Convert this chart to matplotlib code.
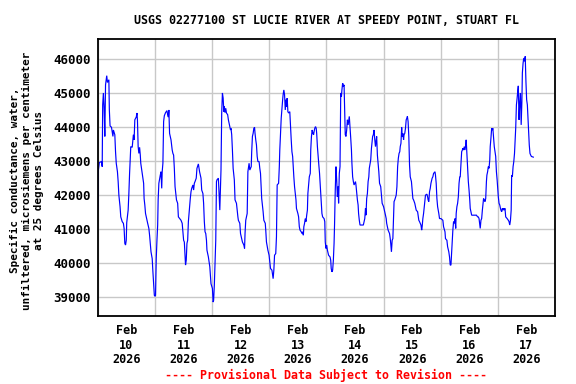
import matplotlib
matplotlib.use("Agg")
import matplotlib.pyplot as plt
import numpy as np

# Hours since 2026-02-10 00:00
hours = [
    0.0, 0.1, 0.6, 1.5, 1.8, 2.0, 2.3, 2.6, 2.9, 3.2, 3.7, 4.0, 4.6, 4.8, 5.1, 5.7, 6.0, 6.3, 6.5, 7.1,
    7.4, 7.7, 8.2, 8.5, 8.8, 9.3, 9.6, 10.2, 10.7, 11.0, 11.3, 11.6, 11.9, 12.1, 12.7, 13.0, 13.3, 13.8,
    14.4, 14.7, 14.9, 15.2, 15.5, 16.1, 16.4, 16.6, 16.9, 17.2, 17.5, 17.8, 18.0, 18.6, 19.2, 19.4, 19.7,
    20.0, 20.6, 20.9, 21.4, 21.7, 22.3, 22.8, 23.1, 23.7, 24.0, 24.2, 24.5, 24.8, 25.1, 25.3, 25.6, 26.2,
    26.5, 26.8, 27.0, 27.3, 27.6, 27.9, 28.4, 29.0, 29.3, 29.6, 29.8, 30.1, 30.7,
    31.2, 31.5, 31.8, 32.1, 32.4, 33.0, 33.5, 33.8, 34.9, 35.4, 35.7, 36.0, 36.3, 36.6, 36.8, 37.1, 37.4,
    37.7, 38.0, 38.5, 38.8, 39.1, 39.4, 39.9, 40.2, 40.5, 40.8, 41.3, 41.6, 42.2, 42.7, 43.3, 43.6, 44.1,
    44.4, 44.7, 45.0, 45.3, 45.6, 45.8, 46.4, 47.0, 47.5, 48.1, 48.4, 48.6, 48.9, 49.2, 49.5, 49.8, 50.0,
    50.6, 50.9, 51.2, 51.4, 51.7, 52.0, 52.3, 52.6, 52.9, 53.1, 53.4, 53.7, 54.0, 54.5, 54.8, 55.4, 55.7,
    55.9, 56.2, 56.5, 56.8, 57.3, 57.6, 58.2, 58.8, 59.0, 59.6, 59.9, 60.4, 60.7, 61.3, 61.6, 61.8, 62.1,
    62.7, 63.0, 63.5,
    63.8, 64.1, 64.4, 64.6, 64.9, 65.2, 65.5, 65.8, 66.0, 66.3, 66.6, 66.9, 67.2, 67.7, 68.0, 68.3, 68.6,
    68.8, 69.1, 69.4, 69.7, 70.3, 70.5, 70.8, 71.4, 71.9, 72.2, 72.5, 73.1, 73.3, 73.6, 73.9, 74.2, 74.7,
    75.0, 75.3, 75.9, 76.2, 76.4, 76.7, 77.0, 77.3, 77.6, 77.8, 78.1, 78.4, 78.7, 79.0, 79.2, 79.5, 79.8,
    80.1, 80.6, 80.9, 81.2, 81.5, 81.8, 82.3, 82.6, 82.9, 83.2, 83.4, 84.0, 84.3, 84.6, 84.9, 85.4, 85.7,
    86.0, 86.3, 86.5, 86.8, 87.1, 87.4, 87.7, 88.0, 88.2, 88.5, 88.8, 89.2, 89.4, 89.7, 90.0, 90.3, 90.6,
    90.8, 91.1, 91.4, 91.7, 91.9, 92.2, 92.5, 92.8, 93.1, 93.4, 93.6, 93.9, 94.1, 94.4, 95.0, 95.3,
    95.5, 95.8, 96.1, 96.4, 96.9, 97.5, 97.8, 98.0, 98.3, 98.6, 98.9, 99.2, 99.4, 99.7, 100.0, 100.3,
    100.6, 100.9, 101.1, 101.4, 101.7, 102.0, 102.3, 102.5, 102.8, 103.1, 103.4, 103.7, 103.9, 104.2,
    104.5, 104.8, 105.1, 105.3, 105.6, 105.9, 106.2, 106.5, 106.7, 107.0, 107.3, 107.6, 108.2, 108.4,
    109.0, 109.3, 109.5, 109.8, 110.1, 111.5, 111.8, 112.1, 112.4, 112.6, 112.9, 113.2, 113.5, 113.8,
    114.0, 114.6, 114.9, 115.2, 115.4, 115.7, 116.0, 116.3, 116.6, 116.9, 117.1, 117.4, 118.0, 118.3,
    118.8, 119.1, 119.4, 120.0, 120.5, 120.8, 121.1, 121.3, 121.9, 122.5, 122.8, 123.0, 123.3, 123.6,
    123.9, 124.2, 124.4, 124.7, 125.3, 125.6, 125.9, 126.2, 126.5, 126.8, 127.0, 127.3, 127.6,
    127.8, 128.1, 128.4, 128.6, 128.9, 129.2, 129.5, 129.8, 130.0, 130.3, 130.6, 130.9, 131.2, 131.7,
    132.0, 132.3, 132.6, 133.1, 133.4, 133.7, 134.3, 134.5, 134.8, 135.1, 135.7, 136.0, 136.2, 136.5,
    136.8, 137.3, 137.6, 138.2, 138.5, 138.7, 139.0, 139.3, 139.6, 139.9, 140.4, 140.7, 141.0, 141.6,
    141.8, 142.1, 142.4, 142.7, 143.2, 143.5, 144.1, 144.9, 145.2, 145.8, 146.0, 146.6, 146.9, 147.4,
    147.7, 148.0, 148.3, 148.6, 148.9, 149.1, 149.4, 149.7, 150.0, 150.3, 150.5, 150.8, 151.1, 151.4,
    151.7, 152.0, 152.2, 152.5, 152.8, 153.1, 153.3, 153.6, 153.9, 154.2, 154.5, 154.7, 155.0, 155.6,
    155.9, 156.2, 156.4, 156.7, 157.0, 159.0, 159.5,
    159.8, 160.1, 160.4, 160.6, 160.9, 161.2, 161.5, 161.8, 162.0, 162.3, 162.6, 162.9, 163.2, 163.4,
    163.7, 164.0, 164.3, 164.6, 164.8, 165.1, 165.4, 165.7, 165.9, 166.2, 166.5, 166.8, 167.1, 167.4,
    167.7, 167.9, 168.2, 168.5, 168.8, 169.1, 169.3, 169.6, 169.9, 170.2, 170.5, 170.7, 171.0, 171.3,
    171.9, 172.4, 172.7, 173.0, 173.3, 173.6, 173.8, 174.1, 174.4, 174.7, 175.0, 175.2, 175.5, 175.8,
    176.1, 176.4, 176.6, 176.9, 177.2, 177.5, 177.8, 178.1, 178.3, 178.6, 178.9, 179.3, 179.5, 179.8,
    180.1, 180.4, 180.7, 180.9, 181.2, 181.5, 181.8, 182.1, 182.9,
]

conductance = [
    41570, 42680, 42950, 42980, 42830, 44650, 45000, 44550, 43720, 45240, 45510, 45310, 45390, 44500, 44030, 43990, 43860, 43720, 43910, 43770,
    43270, 42930, 42680, 42390, 41990, 41650, 41350, 41210, 41160, 41010, 40570, 40520, 40660, 41180, 41550, 42040, 42630, 43420,
    43400, 43620, 43770, 43620, 44210, 44290, 44410, 44210, 43420, 43220, 43400, 43170, 42930, 42630, 42340, 41890, 41700,
    41450, 41250, 41160, 41010, 40810, 40320, 40120, 39730, 39040, 39010, 39040, 40120, 40660, 41110, 41850, 42340, 42580,
    42680, 42190, 42680, 42930, 44160, 44330, 44420, 44480, 44360, 44290, 44500, 43810, 43620,
    43320, 43220, 43170, 42780, 42240, 41850, 41750, 41350, 41250, 41160, 40910, 40660, 40610, 40170, 39930, 40070, 40570,
    40660, 41210, 41650, 41890, 42090, 42190, 42290, 42140, 42340, 42390, 42490, 42780, 42910, 42680, 42490, 42140, 42040,
    41750, 41210, 40910, 40860, 40660, 40370, 40170, 39880, 39380, 39240, 38840, 38890, 39330, 39970, 40660, 42390, 42440,
    42490, 42040, 41550, 42040, 42730, 44410, 45000, 44850, 44450, 44600, 44420, 44550, 44410, 44360, 44210, 44010, 43910,
    43960, 43770, 43320, 42780, 42440, 41850, 41750, 41350, 41250, 41160, 40860, 40710, 40610, 40520, 40420, 40860, 41250,
    41450, 42680, 42930,
    42730, 42780, 42830, 43270, 43720, 43810, 43960, 43990, 43810, 43620, 43470, 43130, 42980, 42980, 42780, 42630, 42190,
    41890, 41700, 41500, 41250, 41160, 40960, 40610, 40370, 40220, 40020, 39830, 39780, 39680, 39530, 39780, 40220, 40270,
    40760, 42290, 42340, 42830, 43320, 43770, 44260, 44550, 44800, 44950, 45090, 44950, 44500, 44800, 44600, 44850, 44450,
    44410, 44450, 44010, 43620, 43270, 43130, 42530, 42240, 42040, 41850, 41600, 41450, 41350, 41060, 40960, 40910, 40860,
    40910, 40810, 41060, 41160, 41300, 41210, 41400, 41550, 42040, 42290, 42530, 42630, 43320, 43720, 43910, 43810, 43770,
    43860, 43960, 44010, 43960, 43810, 43420, 43130, 42880, 42630, 42290, 42040, 41750, 41450, 41350, 41300, 41210,
    40610, 40420, 40520, 40370, 40220, 40170, 40070, 39830, 39730, 39780, 40070, 40570, 41110, 42140, 42830, 42440,
    41940, 42240, 41750, 42630, 42830, 45000, 44900, 45090, 45290, 45190, 45240, 44410, 43770, 43720,
    43910, 44210, 44060, 44160, 44310, 44010, 43670, 43320, 42930, 42530, 42390, 42290, 42390, 42290,
    41850, 41700, 41450, 41250, 41110, 41110, 41210, 41300, 41600, 41400, 41890, 42040, 42390, 42530,
    42780, 43030, 43370, 43570, 43720, 43770, 43910, 43620, 43420, 43620, 43720, 43170, 42680, 42340,
    42240, 41990, 41750, 41650, 41500, 41400, 41300, 41160, 40960, 40860, 40710, 40570, 40320, 40660,
    40710, 41350, 41800, 41850, 41990, 42240, 42830, 43080, 43220, 43270, 43420, 43520, 43990,
    43720, 43810, 43620, 43770, 43810, 43960, 44210, 44260, 44310, 44160, 43720, 42880, 42530, 42390,
    42140, 41890, 41850, 41750, 41650, 41550, 41500, 41400, 41250, 41210, 41110, 40960, 41060, 41300,
    41450, 41800, 41990, 42020, 41940, 41850, 41800, 42090, 42190, 42340, 42490, 42530, 42630, 42680,
    42580, 42340, 41890, 41650, 41450, 41300, 41300, 41250, 41060, 40910, 40710, 40660, 40470, 40320,
    40170, 39930, 39930, 40320, 40660, 40960, 41210, 41160, 41300, 41010, 41450, 41650, 41750, 41940,
    42340, 42530, 42530, 42930, 43270, 43320, 43370, 43320, 43420, 43320, 43470, 43620, 43220, 42390,
    42140, 41850, 41600, 41500, 41400, 41400, 41350,
    41350, 41300, 41110, 41010, 41250, 41300, 41550, 41750, 41890, 41850, 41800, 41890, 42390, 42580,
    42680, 42830, 42780, 43030, 43420, 43670, 43960, 43910, 43960, 43670, 43420, 43270, 43130, 42680,
    42440, 42240, 41940, 41750, 41700, 41600, 41550, 41500, 41600, 41550, 41600, 41550, 41600, 41350,
    41300, 41250, 41210, 41110, 41250, 41550, 42580, 42530, 42830, 42980, 43220, 43520, 43960, 44650,
    44850, 45090, 45210, 44210, 44700, 45000, 44060, 44750, 45590, 45880, 46030, 45930, 46080, 45340,
    44800, 44650, 44210, 43910, 43470, 43220, 43170, 43130, 43110,
]

day_labels = ["Feb\n10\n2026", "Feb\n11\n2026", "Feb\n12\n2026", "Feb\n13\n2026",
              "Feb\n14\n2026", "Feb\n15\n2026", "Feb\n16\n2026", "Feb\n17\n2026"]
y_ticks = [39000, 40000, 41000, 42000, 43000, 44000, 45000, 46000]

title = "USGS 02277100 ST LUCIE RIVER AT SPEEDY POINT, STUART FL"
ylabel = "Specific conductance, water,\nunfiltered, microsiemens per centimeter\nat 25 degrees Celsius"
footer = "---- Provisional Data Subject to Revision ----"

mono = "DejaVu Sans Mono"

fig = plt.figure(figsize=(5.76, 3.84), dpi=100)
ax = fig.add_axes([0.170, 0.1771, 0.7935, 0.7213])

days = np.array(hours) / 24.0
ax.plot(days, conductance, color="#0000ff", lw=0.85, solid_joinstyle="miter")

ax.set_xlim(0, 8)
ax.set_ylim(38430, 46590)

ax.set_xticks(np.arange(0, 9))
ax.set_xticklabels([])
ax.set_xticks(np.arange(len(day_labels)) + 0.5, minor=True)
ax.set_xticklabels(day_labels, minor=True, fontfamily=mono, fontweight="bold",
                   fontsize=8.5, linespacing=1.15)
ax.tick_params(axis="x", which="both", length=0, pad=6)

ax.set_yticks(y_ticks)
ax.set_yticklabels([str(v) for v in y_ticks], fontfamily=mono, fontweight="bold", fontsize=9)
ax.tick_params(axis="y", length=0, pad=5)

ax.grid(True, which="major", color="#c8c8c8", lw=1.0)
ax.set_axisbelow(True)
for s in ax.spines.values():
    s.set_linewidth(1.3)
    s.set_color("black")

fig.text(0.566, 0.947, title, ha="center", va="center", fontfamily=mono,
         fontweight="bold", fontsize=8.4)
fig.text(0.047, 0.53, ylabel, ha="center", va="center", rotation=90,
         fontfamily=mono, fontweight="bold", fontsize=7.9, linespacing=1.2)
fig.text(0.566, 0.023, footer, ha="center", va="center", fontfamily=mono,
         fontweight="bold", fontsize=8.4, color="#ff0000")

fig.savefig("out.png", dpi=100)
